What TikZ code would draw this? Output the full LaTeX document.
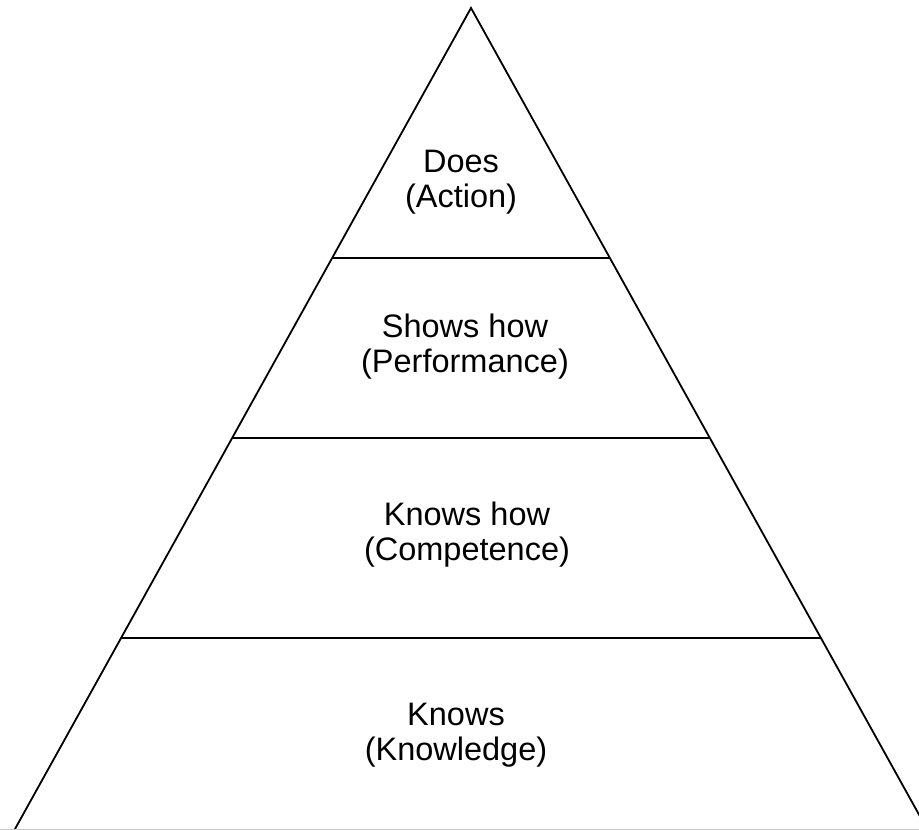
\documentclass[tikz,border=0pt]{standalone}
\usepackage{fontspec}
\setmainfont{Liberation Sans}
\usepackage{tikz}
\usetikzlibrary{positioning,calc}

\begin{document}
\begin{tikzpicture}[x = 1pt, y = 1pt]
\useasboundingbox (0,0) rectangle (919,830);
\clip (0,0) rectangle (919,830);
% corners of the pyramid
\coordinate (top) at (471,822);
\coordinate (bl) at (15,1);
\coordinate (br) at (927,1);
\draw[line width = 1.8pt, line join = miter] (bl) -- (top) -- (br);
\draw[gray!45, line width = 1pt] (0,0.6) -- (919,0.6);
% tier borders
\coordinate (l1) at ($(top)!0.3045!(bl)$);
\coordinate (r1) at ($(top)!0.3045!(br)$);
\coordinate (l2) at ($(top)!0.5237!(bl)$);
\coordinate (r2) at ($(top)!0.5237!(br)$);
\coordinate (l3) at ($(top)!0.7674!(bl)$);
\coordinate (r3) at ($(top)!0.7674!(br)$);
\draw[line width = 1.8pt] (l1) -- (r1);
\draw[line width = 1.8pt] (l2) -- (r2);
\draw[line width = 1.8pt] (l3) -- (r3);
% labels
\node[font = \fontsize{32.5}{35}\selectfont, align = center] (does) at (461,648) {Does\\(Action)};
\node[font = \fontsize{32.5}{35}\selectfont, align = center] (shows) at (465,483) {Shows how\\(Performance)};
\node[font = \fontsize{32.5}{35}\selectfont, align = center] (knowshow) at (467,295) {Knows how\\(Competence)};
\node[font = \fontsize{32.5}{35}\selectfont, align = center] (knows) at (456,95) {Knows\\(Knowledge)};
\end{tikzpicture}
\end{document}
